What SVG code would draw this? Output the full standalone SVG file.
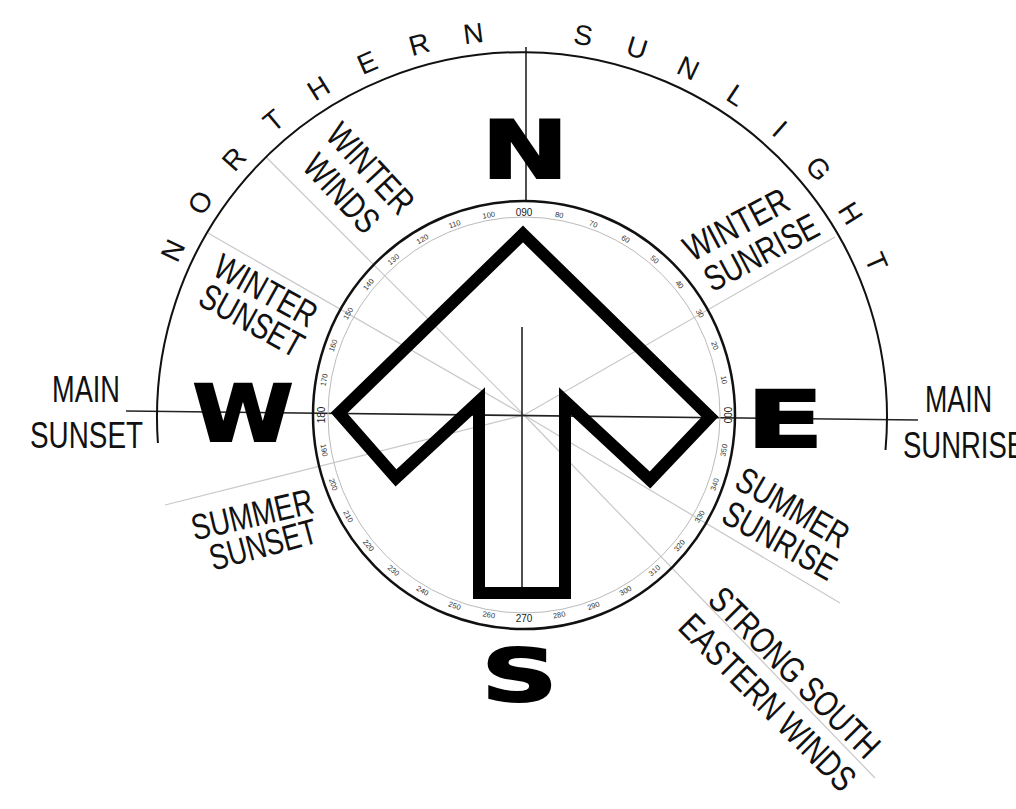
<svg xmlns="http://www.w3.org/2000/svg" width="1016" height="809" viewBox="0 0 1016 809">
<style>
.lbl{font-family:"Liberation Sans",Arial,sans-serif;font-size:36px;fill:#111;}
.arc{font-family:"Liberation Sans",Arial,sans-serif;font-size:28px;fill:#111;}
.card{font-family:"DejaVu Sans",Arial,sans-serif;font-weight:bold;fill:#000;stroke:#000;stroke-width:2;}
.deg{font-family:"Liberation Sans",Arial,sans-serif;font-size:7.5px;fill:#333;text-anchor:middle;dominant-baseline:central;}
.degc{font-family:"Liberation Sans",Arial,sans-serif;font-size:10px;fill:#222;text-anchor:middle;dominant-baseline:central;}
.dir{stroke:#c8c8c8;stroke-width:1.2;fill:none;}
.axis{stroke:#222;stroke-width:1.6;fill:none;}
</style>
<rect width="1016" height="809" fill="#fff"/>
<g id="connectors">
  <line class="dir" x1="266" y1="157" x2="524" y2="415"/>
  <line class="dir" x1="524" y1="415" x2="875" y2="778"/>
  <line class="dir" x1="208" y1="233" x2="524" y2="415"/>
  <line class="dir" x1="835" y1="237" x2="524" y2="415"/>
  <line class="dir" x1="165" y1="505" x2="524" y2="415"/>
  <line class="dir" x1="524" y1="415" x2="840" y2="603"/>
  <line class="axis" x1="126" y1="411" x2="918" y2="420"/>
  <line class="axis" x1="526" y1="47" x2="526" y2="200"/>
  <line class="axis" x1="522" y1="327" x2="522" y2="592" stroke-width="1.3"/>
</g>
<g id="sunlight-arc">
  <path d="M157.9,443 A365,365 0 1 1 885.5,450" fill="none" stroke="#111" stroke-width="2"/>
  <text class="arc" x="177.3 202.3 234.5 273.3 314.9 362.5 412.1 464.5 524 572.6 624.5 675.1 724.4 770.6 803.9 837.1 864.0" y="263.8 217.0 172.9 133.5 101.8 75.2 56.3 44.3 40 43.3 54.0 72.4 98.9 133.5 166.4 209.7 258.1" rotate="-64.5 -56.32 -48.14 -39.96 -31.78 -23.6 -15.42 -7.24 0.94 9.12 17.3 25.48 33.66 41.84 50.02 58.2 66.38">NORTHERN SUNLIGHT</text>
</g>
<g id="compass">
  <ellipse cx="524" cy="415" rx="211" ry="214" fill="none" stroke="#111" stroke-width="2.5"/>
  <ellipse cx="524" cy="415" rx="196" ry="198" fill="none" stroke="#bbb" stroke-width="1"/>
  <text class="degc" transform="translate(727,415) rotate(90)">000</text>
  <text class="deg" transform="translate(723.9,379.8) rotate(80)">10</text>
  <text class="deg" transform="translate(714.8,345.6) rotate(70)">20</text>
  <text class="deg" transform="translate(699.8,313.5) rotate(60)">30</text>
  <text class="deg" transform="translate(679.5,284.5) rotate(50)">40</text>
  <text class="deg" transform="translate(654.5,259.5) rotate(40)">50</text>
  <text class="deg" transform="translate(625.5,239.2) rotate(30)">60</text>
  <text class="deg" transform="translate(593.4,224.2) rotate(20)">70</text>
  <text class="deg" transform="translate(559.2,215.1) rotate(10)">80</text>
  <text class="degc" transform="translate(524,212)">090</text>
  <text class="deg" transform="translate(488.8,215.1) rotate(-10)">100</text>
  <text class="deg" transform="translate(454.6,224.2) rotate(-20)">110</text>
  <text class="deg" transform="translate(422.5,239.2) rotate(-30)">120</text>
  <text class="deg" transform="translate(393.5,259.5) rotate(-40)">130</text>
  <text class="deg" transform="translate(368.5,284.5) rotate(-50)">140</text>
  <text class="deg" transform="translate(348.2,313.5) rotate(-60)">150</text>
  <text class="deg" transform="translate(333.2,345.6) rotate(-70)">160</text>
  <text class="deg" transform="translate(324.1,379.8) rotate(-80)">170</text>
  <text class="degc" transform="translate(321,415) rotate(-90)">180</text>
  <text class="deg" transform="translate(324.1,450.2) rotate(80)">190</text>
  <text class="deg" transform="translate(333.2,484.4) rotate(70)">200</text>
  <text class="deg" transform="translate(348.2,516.5) rotate(60)">210</text>
  <text class="deg" transform="translate(368.5,545.5) rotate(50)">220</text>
  <text class="deg" transform="translate(393.5,570.5) rotate(40)">230</text>
  <text class="deg" transform="translate(422.5,590.8) rotate(30)">240</text>
  <text class="deg" transform="translate(454.6,605.8) rotate(20)">250</text>
  <text class="deg" transform="translate(488.8,614.9) rotate(10)">260</text>
  <text class="degc" transform="translate(524,618)">270</text>
  <text class="deg" transform="translate(559.2,614.9) rotate(-10)">280</text>
  <text class="deg" transform="translate(593.4,605.8) rotate(-20)">290</text>
  <text class="deg" transform="translate(625.5,590.8) rotate(-30)">300</text>
  <text class="deg" transform="translate(654.5,570.5) rotate(-40)">310</text>
  <text class="deg" transform="translate(679.5,545.5) rotate(-50)">320</text>
  <text class="deg" transform="translate(699.8,516.5) rotate(-60)">330</text>
  <text class="deg" transform="translate(714.8,484.4) rotate(-70)">340</text>
  <text class="deg" transform="translate(723.9,450.2) rotate(-80)">350</text>
</g>
<g id="arrow">
  <polygon points="523,234 710,417 650,480 565,401 565,593 479,593 479,401 396,478 339,413" fill="none" stroke="#000" stroke-width="12" stroke-linejoin="miter" stroke-miterlimit="4"/>
</g>
<g id="cardinal-N"><text class="card" x="525" y="178" font-size="80" text-anchor="middle" textLength="87" lengthAdjust="spacingAndGlyphs">N</text></g>
<g id="cardinal-W"><text class="card" x="243" y="441" font-size="79" text-anchor="middle" textLength="101" lengthAdjust="spacingAndGlyphs">W</text></g>
<g id="cardinal-E"><text class="card" x="785" y="447" font-size="78" text-anchor="middle" textLength="77" lengthAdjust="spacingAndGlyphs">E</text></g>
<g id="cardinal-S"><text class="card" x="519.5" y="701" font-size="73" text-anchor="middle" textLength="76" lengthAdjust="spacingAndGlyphs">S</text></g>
<g id="label-main-sunset">
  <text class="lbl" x="86" y="402" text-anchor="middle" textLength="68" lengthAdjust="spacingAndGlyphs">MAIN</text>
  <text class="lbl" x="86.5" y="448" text-anchor="middle" textLength="113" lengthAdjust="spacingAndGlyphs">SUNSET</text>
</g>
<g id="label-main-sunrise">
  <text class="lbl" x="925" y="412" textLength="67" lengthAdjust="spacingAndGlyphs">MAIN</text>
  <text class="lbl" x="903" y="458" textLength="122" lengthAdjust="spacingAndGlyphs">SUNRISE</text>
</g>
<g id="label-winter-winds">
  <text class="lbl" transform="translate(371,168) rotate(47)" y="13" text-anchor="middle" textLength="110" lengthAdjust="spacingAndGlyphs">WINTER</text>
  <text class="lbl" transform="translate(342,193) rotate(47)" y="13" text-anchor="middle" textLength="93" lengthAdjust="spacingAndGlyphs">WINDS</text>
</g>
<g id="label-winter-sunset">
  <text class="lbl" transform="translate(266,290) rotate(29)" y="13" text-anchor="middle" textLength="112" lengthAdjust="spacingAndGlyphs">WINTER</text>
  <text class="lbl" transform="translate(252,320) rotate(29)" y="13" text-anchor="middle" textLength="113" lengthAdjust="spacingAndGlyphs">SUNSET</text>
</g>
<g id="label-winter-sunrise">
  <text class="lbl" transform="translate(736,224) rotate(-28)" y="13" text-anchor="middle" textLength="114" lengthAdjust="spacingAndGlyphs">WINTER</text>
  <text class="lbl" transform="translate(761,252) rotate(-28)" y="13" text-anchor="middle" textLength="124" lengthAdjust="spacingAndGlyphs">SUNRISE</text>
</g>
<g id="label-summer-sunset">
  <text class="lbl" transform="translate(252,514) rotate(-13)" y="13" text-anchor="middle" textLength="124" lengthAdjust="spacingAndGlyphs">SUMMER</text>
  <text class="lbl" transform="translate(263,544) rotate(-15)" y="13" text-anchor="middle" textLength="110" lengthAdjust="spacingAndGlyphs">SUNSET</text>
</g>
<g id="label-summer-sunrise">
  <text class="lbl" transform="translate(793,507) rotate(30)" y="13" text-anchor="middle" textLength="124" lengthAdjust="spacingAndGlyphs">SUMMER</text>
  <text class="lbl" transform="translate(780,540) rotate(29)" y="13" text-anchor="middle" textLength="124" lengthAdjust="spacingAndGlyphs">SUNRISE</text>
</g>
<g id="label-strong-winds">
  <text class="lbl" transform="translate(795,672) rotate(45)" y="13" text-anchor="middle" textLength="225" lengthAdjust="spacingAndGlyphs">STRONG SOUTH</text>
  <text class="lbl" transform="translate(768,702) rotate(45)" y="13" text-anchor="middle" textLength="233" lengthAdjust="spacingAndGlyphs">EASTERN WINDS</text>
</g>
</svg>
